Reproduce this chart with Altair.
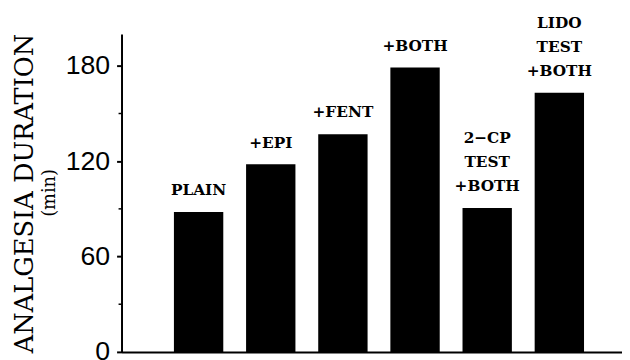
import altair as alt
import pandas as pd

categories = ["PLAIN", "+EPI", "+FENT", "+BOTH", "2-CP TEST +BOTH", "LIDO TEST +BOTH"]
label_lines = [["PLAIN"], ["+EPI"], ["+FENT"], ["+BOTH"],
               ["2\u2212CP", "TEST", "+BOTH"], ["LIDO", "TEST", "+BOTH"]]
positions = [1, 2, 3, 4, 5, 6]
durations = [88, 118, 137, 179, 90.5, 163]
minor_ticks = [30, 90, 150]
major_ticks = [0, 60, 120, 180]

df = pd.DataFrame({"pos": positions, "dur": durations, "cat": categories})

rows = []
for p, d, lines in zip(positions, durations, label_lines):
    n = len(lines)
    for i, t in enumerate(lines):
        rows.append({"pos": p, "dur": d, "text": t, "k": n - 1 - i})
lab_df = pd.DataFrame(rows)
minor_df = pd.DataFrame({"v": minor_ticks})

W, H = 507, 322
SERIF = "DejaVu Serif"

xscale = alt.Scale(domain=[0, 6.8], nice=False, zero=False)
yscale = alt.Scale(domain=[0, 200], nice=False)

bars = alt.Chart(df).mark_bar(color="black", size=50).encode(
    x=alt.X("pos:Q", scale=xscale,
            axis=alt.Axis(labels=False, ticks=False, grid=False, title=None,
                          domainColor="black", domainWidth=2)),
    y=alt.Y("dur:Q", scale=yscale,
            axis=alt.Axis(values=major_ticks, grid=False, title="ANALGESIA DURATION",
                          titleFont=SERIF, titleFontSize=26,
                          titleFontWeight="normal", titleColor="black",
                          titleAngle=-90, titleX=-98, titleY=H / 2,
                          titleAlign="center", titleBaseline="middle",
                          labelFont="Liberation Sans", labelFontSize=27,
                          labelColor="black", labelPadding=7,
                          tickSize=5, tickWidth=2, tickColor="black",
                          domainColor="black", domainWidth=2)),
)

def line_layer(k, dy):
    return alt.Chart(lab_df).transform_filter(alt.datum.k == k).mark_text(
        font=SERIF, fontWeight="bold", fontSize=15.5, color="black",
        baseline="alphabetic", align="center", dy=dy,
    ).encode(
        x=alt.X("pos:Q", scale=xscale),
        y=alt.Y("dur:Q", scale=yscale),
        text="text:N",
    )

texts = [line_layer(0, -17), line_layer(1, -41.5), line_layer(2, -66)]

minor = alt.Chart(minor_df).mark_rule(color="black", strokeWidth=1.5).encode(
    y=alt.Y("v:Q", scale=yscale),
    x=alt.value(-3),
    x2=alt.value(0),
)

unit = alt.Chart(pd.DataFrame({"t": ["(min)"]})).mark_text(
    font=SERIF, fontSize=18, color="black", angle=270,
    align="center", baseline="middle",
).encode(
    text="t:N",
    x=alt.value(-72),
    y=alt.value(H / 2),
)

chart = alt.layer(bars, *texts, minor, unit).properties(
    width=W, height=H,
    autosize=alt.AutoSizeParams(type="none"),
    padding={"left": 115, "top": 24, "right": 0, "bottom": 20},
    background="white",
).configure_view(stroke=None)

chart.save("out.html", embed_options={"renderer": "svg", "actions": False})
